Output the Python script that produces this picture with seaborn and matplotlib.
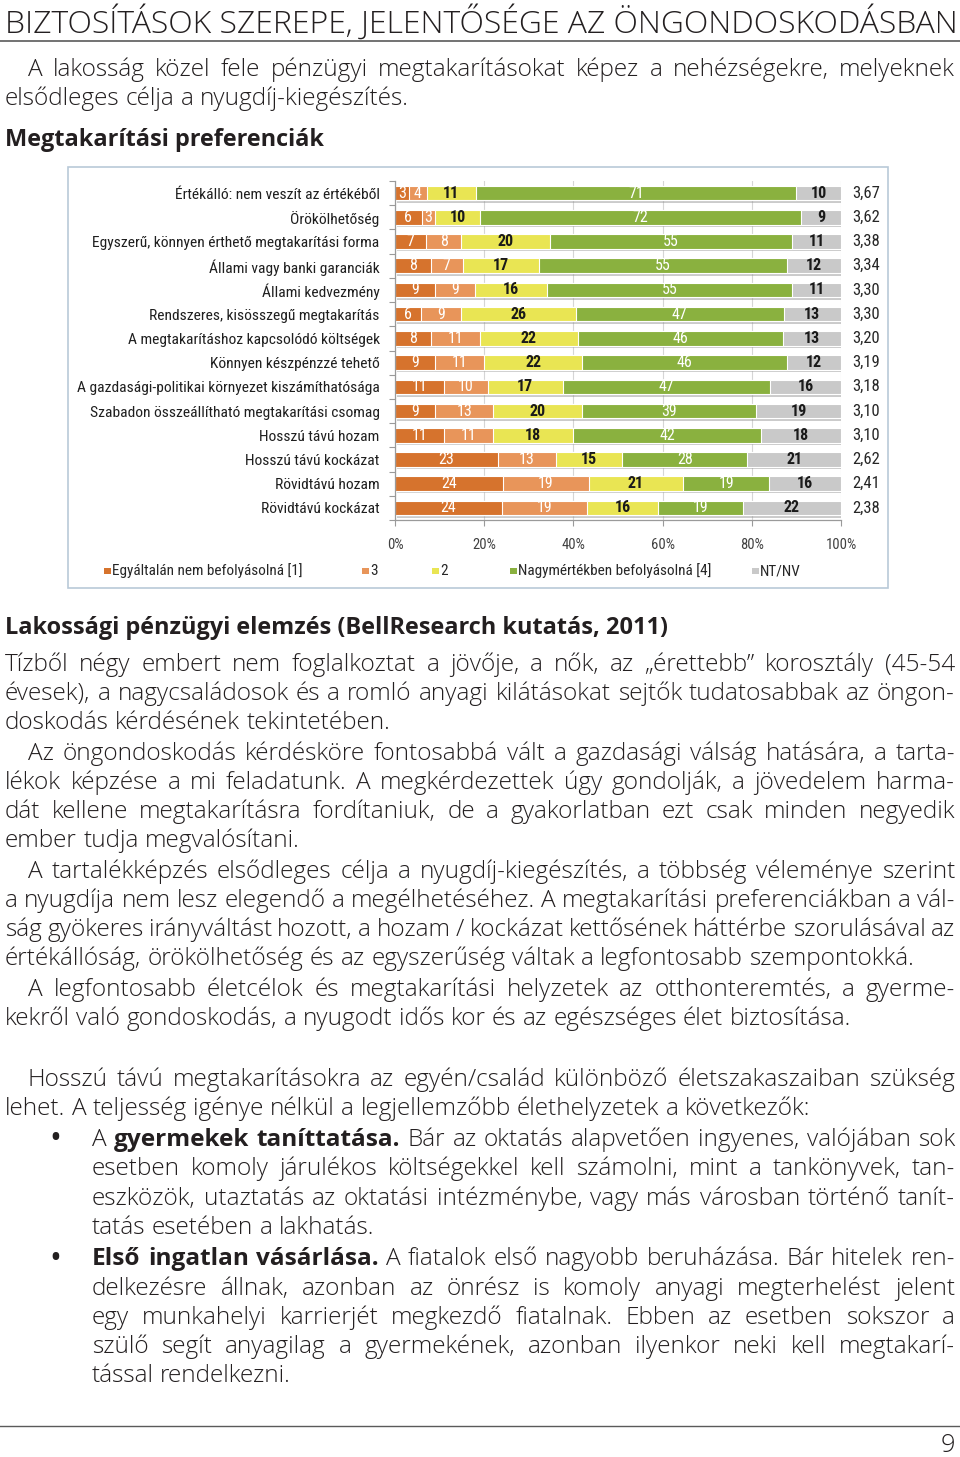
import matplotlib
matplotlib.use("Agg")
import matplotlib.pyplot as plt
import matplotlib.patheffects as pe
from matplotlib import font_manager
from matplotlib.patches import Rectangle
import numpy as np
import pandas as pd
import seaborn as sb

# adatok - megtakaritasi preferenciak (%)
kategoriak = [
    "Értékálló: nem veszít az értékéből",
    "Örökölhetőség",
    "Egyszerű, könnyen érthető megtakarítási forma",
    "Állami vagy banki garanciák",
    "Állami kedvezmény",
    "Rendszeres, kisösszegű megtakarítás",
    "A megtakarításhoz kapcsolódó költségek",
    "Könnyen készpénzzé tehető",
    "A gazdasági-politikai környezet kiszámíthatósága",
    "Szabadon összeállítható megtakarítási csomag",
    "Hosszú távú hozam",
    "Hosszú távú kockázat",
    "Rövidtávú hozam",
    "Rövidtávú kockázat",
]
egyaltalan = [3, 6, 7, 8, 9, 6, 8, 9, 11, 9, 11, 23, 24, 24]
harom = [4, 3, 8, 7, 9, 9, 11, 11, 10, 13, 11, 13, 19, 19]
ketto = [11, 10, 20, 17, 16, 26, 22, 22, 17, 20, 18, 15, 21, 16]
nagy = [71, 72, 55, 55, 55, 47, 46, 46, 47, 39, 42, 28, 19, 19]
ntnv = [10, 9, 11, 12, 11, 13, 13, 12, 16, 19, 18, 21, 16, 22]
atlag = ["3,67", "3,62", "3,38", "3,34", "3,30", "3,30", "3,20", "3,19",
         "3,18", "3,10", "3,10", "2,62", "2,41", "2,38"]
sorozatok = ["Egyáltalán nem befolyásolná [1]", "3", "2",
             "Nagymértékben befolyásolná [4]", "NT/NV"]
x_tickek = [0, 20, 40, 60, 80, 100]

szinek = ["#D6732D", "#E8955A", "#E9E553", "#8AB13F", "#C9C9C9"]
feliratszin = ["white", "white", "#1a1a1a", "white", "#1a1a1a"]

W, H = 960, 1457
SZOVEG = "#231F20"

nevek = {f.name for f in font_manager.fontManager.ttflist}


def elso(*jeloltek):
    for j in jeloltek:
        if j in nevek:
            return j
    return "DejaVu Sans"


BETU = elso("Open Sans", "Roboto", "Lato", "DejaVu Sans")
KESKENY = elso("Liberation Sans Narrow", "Roboto Condensed", "Liberation Sans", "DejaVu Sans")

fig = plt.figure(figsize=(W / 100, H / 100), dpi=100)
fig.patch.set_facecolor("white")
pg = fig.add_axes([0, 0, 1, 1])
pg.set_xlim(0, W)
pg.set_ylim(H, 0)
pg.axis("off")
r = fig.canvas.get_renderer()


def szelesseg(s, meret, suly):
    tx = pg.text(0, 0, s, fontsize=meret, family=BETU, fontweight=suly)
    w = tx.get_window_extent(r).width
    tx.remove()
    return w


def sor(y, x0, s, meret, sorkizart=True, x1=955):
    # szavak kiszedese, ** kozott felkover
    darabok = []
    for i, resz in enumerate(s.split("**")):
        for szo in resz.split():
            darabok.append((szo, i % 2 == 1))
    while True:
        tt = [pg.text(0, y, w, fontsize=meret, family=BETU,
                      fontweight="bold" if b else "light",
                      va="baseline", ha="left", color=SZOVEG) for w, b in darabok]
        sz = [t.get_window_extent(r).width for t in tt]
        ures = szelesseg("a a", meret, "light") - 2 * szelesseg("a", meret, "light")
        if sorkizart and len(tt) > 1:
            u2 = (x1 - x0 - sum(sz)) / (len(tt) - 1)
            if u2 < ures * 0.6 and meret > 8:
                for t in tt:
                    t.remove()
                meret -= 0.25
                continue
            ures = u2
        x = x0
        for t, w in zip(tt, sz):
            t.set_x(x)
            x += w + ures
        break


# cim, meretre igazitva
cim = pg.text(5, 33, "BIZTOSÍTÁSOK SZEREPE, JELENTŐSÉGE AZ ÖNGONDOSKODÁSBAN",
              fontsize=22, family=BETU, fontweight="light", va="baseline", color=SZOVEG)
cw = cim.get_window_extent(r).width
cim.set_fontsize(22 * 950 / cw)
pg.plot([0, W], [40.5, 40.5], color="#5a5a5a", lw=1.2)
pg.plot([0, W], [1425.5, 1425.5], color="#5a5a5a", lw=1.0)

# torzsszoveg merete: egy nem sorkizart sor szelessegehez igazitva
minta = "értékállóság, örökölhetőség és az egyszerűség váltak a legfontosabb szempontokká."
MERET = 15 * 915 / szelesseg(minta, 15, "light")
fej = "Lakossági pénzügyi elemzés (BellResearch kutatás, 2011)"
FEJMERET = 15 * 663 / szelesseg(fej, 15, "bold")

pg.text(955, 1452, "9", fontsize=MERET * 1.05, family=BETU, fontweight="light",
        ha="right", va="baseline", color=SZOVEG)

sorok = [
    (76, 28, "A lakosság közel fele pénzügyi megtakarításokat képez a nehézségekre, melyeknek", True),
    (105, 5, "elsődleges célja a nyugdíj-kiegészítés.", False),
    (671, 5, "Tízből négy embert nem foglalkoztat a jövője, a nők, az „érettebb” korosztály (45-54", True),
    (700, 5, "évesek), a nagycsaládosok és a romló anyagi kilátásokat sejtők tudatosabbak az öngon-", True),
    (729, 5, "doskodás kérdésének tekintetében.", False),
    (760, 28, "Az öngondoskodás kérdésköre fontosabbá vált a gazdasági válság hatására, a tarta-", True),
    (789, 5, "lékok képzése a mi feladatunk. A megkérdezettek úgy gondolják, a jövedelem harma-", True),
    (818, 5, "dát kellene megtakarításra fordítaniuk, de a gyakorlatban ezt csak minden negyedik", True),
    (847, 5, "ember tudja megvalósítani.", False),
    (878, 28, "A tartalékképzés elsődleges célja a nyugdíj-kiegészítés, a többség véleménye szerint", True),
    (907, 5, "a nyugdíja nem lesz elegendő a megélhetéséhez. A megtakarítási preferenciákban a vál-", True),
    (936, 5, "ság gyökeres irányváltást hozott, a hozam / kockázat kettősének háttérbe szorulásával az", True),
    (965, 5, "értékállóság, örökölhetőség és az egyszerűség váltak a legfontosabb szempontokká.", False),
    (996, 28, "A legfontosabb életcélok és megtakarítási helyzetek az otthonteremtés, a gyerme-", True),
    (1025, 5, "kekről való gondoskodás, a nyugodt idős kor és az egészséges élet biztosítása.", False),
    (1086, 28, "Hosszú távú megtakarításokra az egyén/család különböző életszakaszaiban szükség", True),
    (1115, 5, "lehet. A teljesség igénye nélkül a legjellemzőbb élethelyzetek a következők:", False),
    (1146, 92, "A **gyermekek taníttatása.** Bár az oktatás alapvetően ingyenes, valójában sok", True),
    (1175, 92, "esetben komoly járulékos költségekkel kell számolni, mint a tankönyvek, tan-", True),
    (1205, 92, "eszközök, utaztatás az oktatási intézménybe, vagy más városban történő tanít-", True),
    (1234, 92, "tatás esetében a lakhatás.", False),
    (1265, 92, "**Első ingatlan vásárlása.** A fiatalok első nagyobb beruházása. Bár hitelek ren-", True),
    (1295, 92, "delkezésre állnak, azonban az önrész is komoly anyagi megterhelést jelent", True),
    (1324, 92, "egy munkahelyi karrierjét megkezdő fiatalnak. Ebben az esetben sokszor a", True),
    (1353, 92, "szülő segít anyagilag a gyermekének, azonban ilyenkor neki kell megtakarí-", True),
    (1382, 92, "tással rendelkezni.", False),
]
for y, x0, s, j in sorok:
    sor(y, x0, s, MERET, j)

for y in (1146, 1265):
    pg.text(55, y - 6, "•", fontsize=MERET * 1.3, family=BETU, ha="center", va="center",
            color=SZOVEG)

pg.text(5, 146, "Megtakarítási preferenciák", fontsize=FEJMERET, family=BETU,
        fontweight="bold", va="baseline", color=SZOVEG)
pg.text(5, 634, fej, fontsize=FEJMERET, family=BETU, fontweight="bold", va="baseline",
        color=SZOVEG)

# diagram keret
pg.add_patch(Rectangle((68, 167), 820, 421, facecolor="white", edgecolor="#B9C9D8", lw=1.2))

# diagram
t = pd.DataFrame({"kat": kategoriak, "e1": egyaltalan, "e3": harom, "e2": ketto,
                  "e4": nagy, "nt": ntnv})
oszlopok = ["e1", "e3", "e2", "e4", "nt"]
ossz = t[oszlopok].sum(axis=1)
kum = t[oszlopok].cumsum(axis=1).div(ossz, axis=0) * 100
kum["kat"] = t["kat"]

ax = fig.add_axes([395 / W, 1 - 520 / H, 446 / W, 339 / H])
ax.patch.set_alpha(0)
for k in range(4, -1, -1):
    sb.barplot(data=kum, x=oszlopok[k], y="kat", order=kategoriak, orient="h",
               color=szinek[k], saturation=1, width=0.6, errorbar=None,
               edgecolor="white", linewidth=0.8, ax=ax)
    if k == 4:
        for p in ax.patches:
            p.set_path_effects([pe.SimplePatchShadow(offset=(1.5, -1.8), shadow_rgbFace="#8c8c8c",
                                                     alpha=0.45), pe.Normal()])

for i in range(len(kategoriak)):
    bal = 0
    for k, c in enumerate(oszlopok):
        jobb = kum[c].iloc[i]
        ax.text((bal + jobb) / 2, i, str(t[c].iloc[i]), ha="center", va="center",
                fontsize=11.5, family=KESKENY, color=feliratszin[k],
                fontweight="bold" if feliratszin[k] != "white" else "normal")
        bal = jobb
    ax.text(1.056, i, atlag[i], transform=ax.get_yaxis_transform(), ha="center",
            va="center", fontsize=12, family=KESKENY, color="#262626")

ax.set_xlim(0, 100)
ax.set_ylim(len(kategoriak) - 0.5, -0.5)
ax.set_xlabel("")
ax.set_ylabel("")
ax.set_xticks(x_tickek)
ax.set_xticklabels([f"{v}%" for v in x_tickek], family=KESKENY, fontsize=10.5, color="#404040")
ax.set_yticks(range(len(kategoriak)))
ax.set_yticklabels(kategoriak, family=KESKENY, fontsize=11.5, color="#1f1f1f")
ax.set_yticks(np.arange(-0.5, len(kategoriak), 1), minor=True)
ax.tick_params(axis="y", which="major", length=0, pad=11)
ax.tick_params(axis="y", which="minor", length=4, color="#9a9a9a", width=0.8)
ax.tick_params(axis="x", length=4, color="#9a9a9a", width=0.8, pad=9)
ax.xaxis.grid(True, color="#D5D5D5", lw=0.8)
ax.set_axisbelow(True)
for s in ["top", "right"]:
    ax.spines[s].set_visible(False)
for s in ["left", "bottom"]:
    ax.spines[s].set_color("#9a9a9a")
    ax.spines[s].set_linewidth(0.9)

# ha a cimkek tul szelesek, kisebb betu
fig.canvas.draw()
maxw = max(l.get_window_extent(r).width for l in ax.get_yticklabels())
if maxw > 302:
    for l in ax.get_yticklabels():
        l.set_fontsize(11.5 * 302 / maxw)

# jelmagyarazat
lx = [104, 362, 432, 510, 752]
for k, nev in enumerate(sorozatok):
    pg.add_patch(Rectangle((lx[k], 567.5), 6.5, 6.5, facecolor=szinek[k], edgecolor="none"))
    pg.text(lx[k] + 8, 571, nev, fontsize=11, family=KESKENY, va="center",
            ha="left", color="#262626")

fig.savefig("out.png", dpi=100, facecolor="white")
